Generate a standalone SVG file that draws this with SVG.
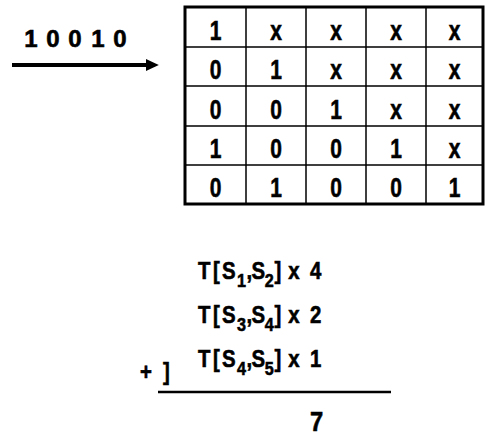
<svg xmlns="http://www.w3.org/2000/svg" width="485" height="438" viewBox="0 0 485 438">
<style>
text{font-family:"Liberation Sans",Arial,sans-serif;font-weight:bold;fill:#000;stroke:#000;stroke-width:0.6}
.cell{font-size:28px;text-anchor:middle}
.f{font-size:24px}
.sub{font-size:19px}
.grid{stroke:#000;stroke-width:1.5;fill:none}
</style>
<defs>
<marker id="ah" markerWidth="4" markerHeight="4" refX="1" refY="2" orient="auto" markerUnits="strokeWidth">
<path d="M0,0.5 L3.2,2 L0,3.5 Z" fill="#000"/>
</marker>
</defs>
<rect width="485" height="438" fill="#fff"/>
<g id="input-label">
<text font-size="24" text-anchor="middle"><tspan x="31" y="47">1</tspan><tspan x="53" y="47">0</tspan><tspan x="75" y="47">0</tspan><tspan x="98" y="47">1</tspan><tspan x="120" y="47">0</tspan></text>
</g>
<g id="connectors">
<line x1="12" y1="65" x2="150" y2="65" stroke="#000" stroke-width="4" marker-end="url(#ah)"/>
</g>
<g id="table">
<rect x="185" y="7" width="298" height="197" fill="none" stroke="#000" stroke-width="3"/>
<path class="grid" d="M246,7V204M306,7V204M366,7V204M426,7V204M185,47H483M185,86H483M185,126H483M185,165H483"/>
<g transform="scale(0.75,1)">
<text class="cell" y="40"><tspan x="287.3">1</tspan><tspan x="368">x</tspan><tspan x="448">x</tspan><tspan x="528">x</tspan><tspan x="606">x</tspan></text>
<text class="cell" y="79"><tspan x="287.3">0</tspan><tspan x="368">1</tspan><tspan x="448">x</tspan><tspan x="528">x</tspan><tspan x="606">x</tspan></text>
<text class="cell" y="119"><tspan x="287.3">0</tspan><tspan x="368">0</tspan><tspan x="448">1</tspan><tspan x="528">x</tspan><tspan x="606">x</tspan></text>
<text class="cell" y="158"><tspan x="287.3">1</tspan><tspan x="368">0</tspan><tspan x="448">0</tspan><tspan x="528">1</tspan><tspan x="606">x</tspan></text>
<text class="cell" y="197"><tspan x="287.3">0</tspan><tspan x="368">1</tspan><tspan x="448">0</tspan><tspan x="528">0</tspan><tspan x="606">1</tspan></text>
</g>
</g>
<g id="formula">
<g transform="scale(0.85,1)">
<text class="f" y="279"><tspan x="232.9">T</tspan><tspan x="250.6">[</tspan><tspan x="261.2">S</tspan><tspan class="sub" x="278.8" dy="8">1</tspan><tspan x="290" dy="-8">,</tspan><tspan x="296">S</tspan><tspan class="sub" x="311.5" dy="8">2</tspan><tspan x="323" dy="-8">]</tspan><tspan x="339">x</tspan><tspan x="364.7">4</tspan></text>
<text class="f" y="323"><tspan x="232.9">T</tspan><tspan x="250.6">[</tspan><tspan x="261.2">S</tspan><tspan class="sub" x="278.8" dy="8">3</tspan><tspan x="290" dy="-8">,</tspan><tspan x="296">S</tspan><tspan class="sub" x="311.5" dy="8">4</tspan><tspan x="323" dy="-8">]</tspan><tspan x="339">x</tspan><tspan x="364.7">2</tspan></text>
<text class="f" y="367"><tspan x="232.9">T</tspan><tspan x="250.6">[</tspan><tspan x="261.2">S</tspan><tspan class="sub" x="278.8" dy="8">4</tspan><tspan x="290" dy="-8">,</tspan><tspan x="296">S</tspan><tspan class="sub" x="311.5" dy="8">5</tspan><tspan x="323" dy="-8">]</tspan><tspan x="339">x</tspan><tspan x="364.7">1</tspan></text>
<text class="f" y="380"><tspan x="164.7">+</tspan><tspan x="191.8">]</tspan></text>
<text font-size="28" x="364.7" y="431">7</text>
</g>
<line x1="158" y1="392" x2="391" y2="392" stroke="#000" stroke-width="2.5"/>
</g>
</svg>
